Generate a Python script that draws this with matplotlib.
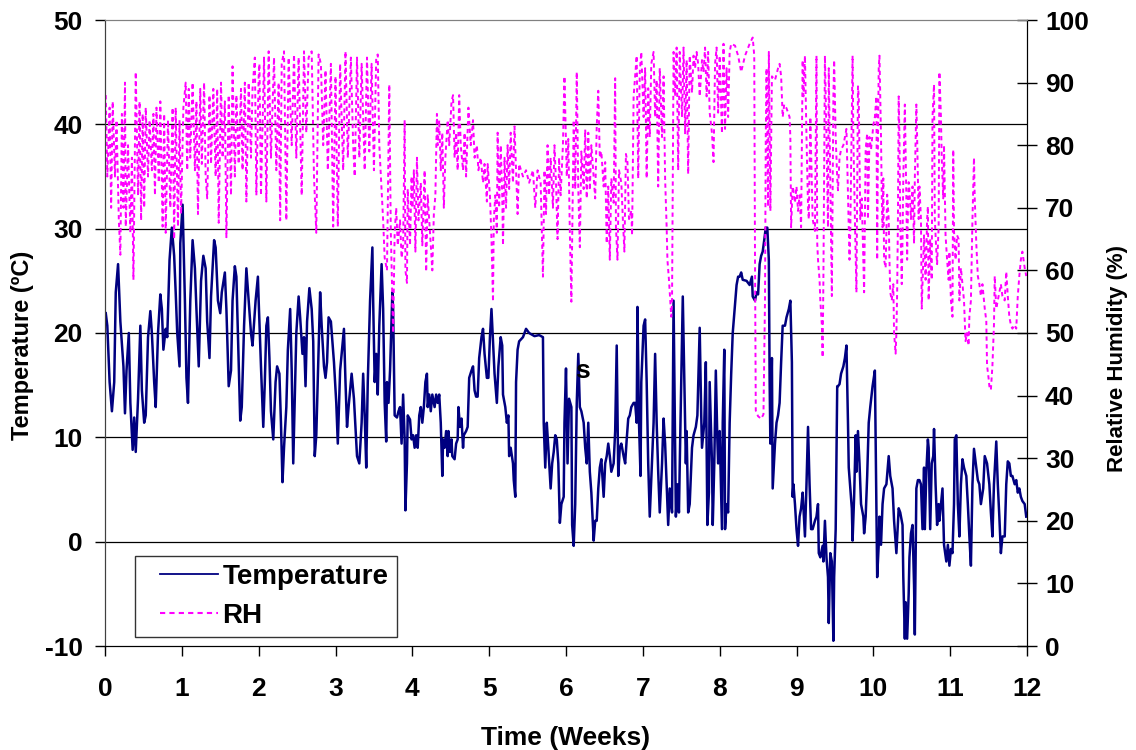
import matplotlib
matplotlib.use("Agg")
import matplotlib.pyplot as plt
from matplotlib.lines import Line2D
from matplotlib.legend_handler import HandlerLine2D

plt.rcParams['font.family'] = ['Liberation Sans', 'DejaVu Sans']
plt.rcParams['font.weight'] = 'bold'
plt.rcParams['axes.unicode_minus'] = False

# Temperature trace (weeks, deg C)
temp_weeks = [
    0.01, 0.03, 0.06, 0.09, 0.12, 0.14, 0.17, 0.20, 0.24, 0.26, 0.28, 0.31, 0.33, 0.36, 0.38, 0.40,
    0.43, 0.46, 0.48, 0.51, 0.53, 0.56, 0.59, 0.61, 0.64, 0.66, 0.69, 0.72, 0.74, 0.76, 0.79, 0.81,
    0.84, 0.87, 0.90, 0.92, 0.94, 0.97, 0.98, 1.01, 1.04, 1.06, 1.08, 1.11, 1.14, 1.17, 1.19, 1.22,
    1.25, 1.28, 1.31, 1.33, 1.36, 1.38, 1.42, 1.44, 1.47, 1.50, 1.52, 1.56, 1.58, 1.61, 1.64, 1.66,
    1.69, 1.71, 1.74, 1.76, 1.78, 1.81, 1.84, 1.87, 1.90, 1.92, 1.96, 1.99,
    2.00, 2.03, 2.06, 2.08, 2.10, 2.12, 2.14, 2.16, 2.19, 2.22, 2.24, 2.27, 2.29, 2.31, 2.33, 2.36,
    2.38, 2.41, 2.43, 2.45, 2.47, 2.49, 2.52, 2.54, 2.57, 2.59, 2.61, 2.63, 2.66, 2.69, 2.71, 2.73,
    2.75, 2.78, 2.80, 2.82, 2.85, 2.87, 2.89, 2.91, 2.94, 2.96, 2.98, 3.01, 3.03, 3.06, 3.08, 3.11,
    3.13, 3.15, 3.17, 3.19, 3.21, 3.24, 3.26, 3.28, 3.31, 3.34, 3.36, 3.38, 3.40, 3.42, 3.45, 3.48,
    3.49, 3.51, 3.53, 3.55, 3.57, 3.60, 3.62, 3.64, 3.66, 3.67, 3.69, 3.71, 3.74, 3.75, 3.77, 3.80,
    3.82, 3.84, 3.86, 3.88, 3.90, 3.91, 3.93, 3.94, 3.97, 3.99,
    4.01, 4.03, 4.05, 4.07, 4.09, 4.11, 4.13, 4.15, 4.17, 4.19, 4.20, 4.22, 4.24, 4.26, 4.29, 4.31,
    4.33, 4.35, 4.37, 4.39, 4.40, 4.42, 4.44, 4.46, 4.47, 4.49, 4.51, 4.52, 4.55, 4.57, 4.59, 4.60,
    4.62, 4.64, 4.66, 4.67, 4.70, 4.72, 4.74, 4.77, 4.79, 4.81, 4.83, 4.85, 4.87, 4.90, 4.92, 4.94,
    4.97, 4.99, 5.01, 5.03, 5.05, 5.07, 5.10, 5.12, 5.15, 5.17, 5.18, 5.21, 5.23, 5.25, 5.26, 5.28,
    5.31, 5.32, 5.34, 5.35, 5.37, 5.39, 5.44, 5.48, 5.52, 5.59, 5.65, 5.70, 5.71, 5.73, 5.75, 5.77,
    5.80, 5.82, 5.84, 5.86, 5.88, 5.90, 5.92, 5.94, 5.97, 5.98, 6.00, 6.02,
    6.04, 6.07, 6.08, 6.10, 6.12, 6.14, 6.16, 6.18, 6.20, 6.23, 6.25, 6.27, 6.29, 6.31, 6.33, 6.36,
    6.38, 6.40, 6.42, 6.44, 6.46, 6.49, 6.51, 6.53, 6.55, 6.57, 6.59, 6.62, 6.64, 6.66, 6.68, 6.70,
    6.72, 6.75, 6.77, 6.79, 6.81, 6.83, 6.85, 6.88, 6.90, 6.92, 6.93, 6.95, 6.97, 6.98, 7.01, 7.03,
    7.05, 7.07, 7.09, 7.11, 7.14, 7.16, 7.18, 7.20, 7.22, 7.25, 7.27, 7.29, 7.31, 7.33, 7.35, 7.38,
    7.40, 7.41, 7.43, 7.45, 7.47, 7.49, 7.52, 7.54, 7.56, 7.57, 7.59, 7.61, 7.64, 7.66, 7.69, 7.71,
    7.74, 7.76, 7.77, 7.80, 7.82, 7.84, 7.86, 7.87, 7.90, 7.91, 7.93, 7.95, 7.97, 7.98, 8.00, 8.03,
    8.04, 8.06, 8.07, 8.09, 8.11, 8.13, 8.15, 8.17, 8.20, 8.22, 8.24, 8.26, 8.28, 8.30, 8.35, 8.39,
    8.42, 8.43, 8.46, 8.48, 8.50, 8.52, 8.54, 8.56, 8.58, 8.60, 8.62, 8.64, 8.65, 8.66, 8.68, 8.69,
    8.72, 8.74, 8.76, 8.78, 8.80, 8.82, 8.85, 8.87, 8.90, 8.92, 8.94, 8.95, 8.96, 8.98, 9.00, 9.02,
    9.04, 9.06, 9.08, 9.11, 9.13, 9.15, 9.17, 9.19, 9.21, 9.24, 9.26, 9.28, 9.29, 9.31, 9.34, 9.35,
    9.37, 9.39, 9.41, 9.42, 9.44, 9.46, 9.48, 9.49, 9.51, 9.53, 9.54, 9.56, 9.58, 9.61, 9.63, 9.65,
    9.67, 9.68, 9.70, 9.72, 9.73, 9.75, 9.77, 9.78, 9.80, 9.82, 9.84, 9.87, 9.88, 9.90, 9.92, 9.94,
    9.96, 9.99, 10.02, 10.05,
    10.07, 10.08, 10.10, 10.12, 10.14, 10.17, 10.20, 10.22, 10.25, 10.27, 10.30, 10.33, 10.35, 10.38,
    10.39, 10.41, 10.42, 10.44, 10.46, 10.47, 10.49, 10.51, 10.53, 10.54, 10.56, 10.58, 10.60, 10.62,
    10.64, 10.66, 10.67, 10.69, 10.71, 10.72, 10.74, 10.76, 10.78, 10.79, 10.81, 10.83, 10.85, 10.86,
    10.88, 10.90, 10.92, 10.95, 10.97, 10.99, 11.01, 11.03, 11.05, 11.06, 11.08, 11.10, 11.12, 11.14,
    11.16, 11.18, 11.21, 11.23, 11.25, 11.27, 11.29, 11.31, 11.34, 11.36, 11.38, 11.40, 11.43, 11.45,
    11.48, 11.51, 11.53, 11.55, 11.57, 11.60, 11.62, 11.64, 11.66, 11.68, 11.71, 11.73, 11.75, 11.77,
    11.79, 11.81, 11.84, 11.86, 11.88, 11.90, 11.92, 11.94, 11.97, 11.99,
]
temp_c = [
    21.9, 20.7, 15.3, 12.5, 15.3, 23.9, 26.6, 21.1, 16.8, 12.3, 16.4, 20.0, 13.3, 8.8, 11.9, 8.6,
    13.7, 20.7, 14.5, 11.4, 12.1, 19.6, 22.1, 20.0, 15.3, 12.9, 20.0, 23.7, 22.3, 18.4, 20.4, 19.6,
    27.0, 30.1, 27.4, 23.9, 20.0, 16.8, 28.6, 32.3, 23.1, 15.7, 13.3, 23.1, 28.9, 26.2, 22.3, 16.8,
    25.0, 27.4, 26.2, 21.1, 17.6, 23.5, 28.9, 28.2, 23.1, 21.9, 23.9, 25.8, 22.3, 14.9, 16.4, 23.1,
    26.4, 25.4, 17.2, 11.6, 12.9, 20.7, 26.2, 23.1, 20.0, 18.8, 23.1, 25.4,
    23.1, 16.8, 11.0, 15.3, 20.7, 21.5, 17.6, 12.5, 9.8, 15.3, 16.8, 16.1, 11.4, 5.7, 9.0, 12.9,
    18.4, 22.3, 16.4, 7.5, 13.7, 20.0, 23.5, 21.5, 18.0, 19.6, 14.9, 21.1, 24.3, 22.3, 19.2, 8.2,
    10.2, 18.4, 23.9, 20.7, 16.8, 15.7, 17.2, 21.5, 21.1, 19.2, 17.2, 13.3, 9.4, 16.4, 18.0, 20.4,
    15.3, 11.0, 12.9, 14.5, 16.1, 13.7, 11.0, 8.2, 7.5, 11.4, 16.1, 12.1, 7.1, 15.3, 23.1, 28.2,
    23.1, 15.3, 18.0, 14.1, 20.7, 26.6, 22.3, 13.3, 9.6, 15.3, 13.3, 16.4, 23.9, 22.3, 12.1, 11.9,
    12.5, 12.9, 9.4, 14.1, 9.8, 3.0, 7.5, 12.1, 11.7, 9.8,
    10.2, 9.0, 10.2, 9.0, 12.1, 12.9, 11.4, 12.9, 15.3, 16.1, 12.9, 14.1, 12.5, 14.1, 12.9, 14.1,
    13.3, 14.1, 11.4, 6.3, 9.8, 9.0, 10.6, 8.2, 10.6, 8.6, 9.8, 8.2, 7.9, 9.4, 9.8, 12.9,
    11.0, 11.8, 9.0, 10.2, 10.6, 11.0, 15.7, 16.4, 16.8, 14.5, 13.9, 13.9, 17.6, 19.6, 20.4, 18.0,
    15.7, 15.7, 19.6, 22.3, 19.2, 16.1, 13.3, 16.8, 19.6, 18.8, 14.1, 12.9, 11.4, 12.1, 8.2, 9.0,
    7.5, 5.9, 4.3, 15.3, 18.4, 19.2, 19.6, 20.4, 20.0, 19.7, 19.8, 19.6, 11.4, 7.1, 11.4, 9.0,
    5.1, 7.5, 8.6, 10.2, 9.8, 7.5, 1.8, 3.6, 4.3, 11.4, 16.6, 7.5,
    13.7, 12.9, 1.6, -0.4, 3.6, 13.3, 18.0, 12.9, 12.5, 11.4, 9.0, 7.5, 11.4, 6.7, 4.7, 0.1,
    2.0, 2.0, 5.1, 7.1, 7.9, 4.3, 7.5, 8.2, 9.4, 8.2, 6.7, 7.5, 10.6, 18.8, 6.3, 9.0,
    9.4, 8.2, 7.5, 9.8, 11.8, 12.1, 12.9, 13.3, 13.3, 11.4, 22.5, 11.4, 6.3, 15.3, 20.7, 21.3,
    15.3, 7.5, 2.4, 5.9, 11.4, 18.0, 11.4, 6.7, 2.8, 7.5, 11.8, 9.4, 5.5, 1.6, 5.1, 2.8,
    23.1, 16.4, 2.4, 5.5, 2.8, 11.4, 23.5, 15.3, 7.5, 10.6, 2.8, 3.6, 9.0, 10.2, 11.0, 12.1,
    20.5, 12.1, 9.0, 11.4, 17.2, 1.6, 4.7, 15.3, 7.5, 1.6, 7.5, 16.4, 9.8, 7.5, 10.6, 1.2,
    11.4, 18.4, 1.2, 3.6, 2.8, 11.4, 16.1, 20.0, 22.7, 24.6, 25.4, 25.4, 25.8, 25.1, 25.0, 24.6,
    25.4, 23.5, 23.1, 23.9, 23.7, 26.6, 27.4, 27.8, 28.9, 30.1, 30.1, 27.0, 15.7, 9.4, 17.6, 5.1,
    9.4, 11.4, 12.1, 13.3, 17.2, 20.7, 20.7, 21.5, 22.3, 23.1, 17.2, 4.3, 5.5, 3.6, 1.2, -0.4,
    2.4, 3.2, 4.7, 0.5, 5.5, 11.0, 5.5, 1.2, 1.2, 2.0, 2.4, 3.6, -1.1, -1.5, -0.4, -1.9,
    2.0, -1.5, -3.4, -7.8, -1.1, -1.9, -9.5, -3.4, 1.2, 14.9, 14.9, 15.1, 16.1, 16.8, 17.6, 18.8,
    11.4, 7.1, 5.1, 3.2, 0.1, 4.3, 10.2, 6.7, 10.6, 7.5, 3.6, 2.4, 0.8, 2.4, 6.3, 11.4,
    12.9, 14.9, 16.4, -3.4,
    -0.3, 2.4, -0.3, 3.6, 5.1, 5.5, 8.2, 6.3, 5.1, 2.0, -1.1, 3.2, 2.8, 1.6,
    -3.4, -9.3, -5.8, -9.3, -5.0, -1.5, 0.8, 1.6, -4.2, -8.9, 5.1, 5.9, 5.9, 5.5,
    1.2, 7.1, 1.2, 6.7, 9.8, 9.0, 1.2, 7.5, 8.2, 10.8, 5.5, 1.6, 3.6, 2.0,
    3.6, 5.1, -0.3, -1.9, -0.3, -2.3, -0.7, -1.1, 3.6, 9.8, 10.2, 3.6, 0.5, 5.5,
    7.9, 7.1, 6.3, 3.6, 0.5, -2.3, 5.5, 8.9, 7.1, 5.9, 5.5, 3.6, 5.1, 8.2,
    7.5, 5.5, 2.8, 0.5, 5.5, 9.6, 5.5, 2.4, -1.1, 0.5, 0.5, 5.5, 7.7, 7.5,
    6.3, 6.3, 5.5, 5.9, 4.7, 5.1, 4.3, 3.9, 3.6, 2.4,
]

# Relative humidity trace (weeks, %)
rh_weeks = [
    0.01, 0.03, 0.06, 0.08, 0.10, 0.13, 0.15, 0.18, 0.20, 0.22, 0.24, 0.26, 0.27, 0.30, 0.33, 0.35,
    0.37, 0.40, 0.43, 0.45, 0.47, 0.49, 0.51, 0.53, 0.56, 0.58, 0.61, 0.63, 0.65, 0.67, 0.70, 0.72,
    0.75, 0.77, 0.79, 0.82, 0.85, 0.88, 0.90, 0.92, 0.95, 0.97, 0.99, 1.02, 1.05, 1.07, 1.09, 1.11,
    1.14, 1.17, 1.19, 1.21, 1.24, 1.26, 1.29, 1.31, 1.33, 1.36, 1.38, 1.41, 1.44, 1.46, 1.48, 1.51,
    1.53, 1.56, 1.58, 1.61, 1.64, 1.66, 1.69, 1.71, 1.74, 1.77, 1.79, 1.82, 1.84, 1.87, 1.90, 1.92,
    1.95, 1.97, 2.00,
    2.01, 2.03, 2.07, 2.10, 2.13, 2.16, 2.20, 2.23, 2.26, 2.28, 2.30, 2.33, 2.36, 2.39, 2.43, 2.46,
    2.49, 2.52, 2.56, 2.59, 2.62, 2.65, 2.69, 2.72, 2.75, 2.78, 2.81, 2.84, 2.87, 2.90, 2.94, 2.97,
    3.00, 3.03, 3.06, 3.10, 3.13, 3.16, 3.20, 3.23, 3.25, 3.28, 3.31, 3.34, 3.38, 3.41, 3.44, 3.47,
    3.50, 3.53, 3.55, 3.57, 3.60, 3.62, 3.64, 3.67, 3.70, 3.72, 3.74, 3.75, 3.77, 3.79, 3.81, 3.84,
    3.86, 3.88, 3.90, 3.91, 3.93, 3.94, 3.97, 3.99,
    4.00, 4.02, 4.04, 4.06, 4.08, 4.11, 4.13, 4.16, 4.18, 4.20, 4.23, 4.25, 4.26, 4.28, 4.30, 4.32,
    4.33, 4.35, 4.37, 4.39, 4.41, 4.43, 4.46, 4.48, 4.51, 4.53, 4.55, 4.57, 4.59, 4.61, 4.63, 4.66,
    4.68, 4.70, 4.73, 4.76, 4.79, 4.81, 4.84, 4.86, 4.89, 4.92, 4.94, 4.97, 4.98, 5.01, 5.03, 5.05,
    5.06, 5.08, 5.10, 5.11, 5.13, 5.15, 5.17, 5.18, 5.20, 5.22, 5.24, 5.26, 5.28, 5.31, 5.33, 5.35,
    5.37, 5.39, 5.44, 5.48, 5.52, 5.57, 5.60, 5.63, 5.67, 5.70, 5.72, 5.74, 5.76, 5.78, 5.80, 5.83,
    5.85, 5.87, 5.89, 5.91, 5.93, 5.96, 5.98,
    6.01, 6.03, 6.05, 6.07, 6.10, 6.12, 6.14, 6.16, 6.18, 6.20, 6.23, 6.25, 6.27, 6.29, 6.31, 6.33,
    6.36, 6.38, 6.40, 6.42, 6.44, 6.46, 6.49, 6.51, 6.53, 6.55, 6.57, 6.59, 6.62, 6.64, 6.65, 6.67,
    6.69, 6.72, 6.74, 6.76, 6.78, 6.80, 6.82, 6.85, 6.86, 6.88, 6.90, 6.92, 6.94, 6.96, 6.98, 7.01,
    7.03, 7.05, 7.07, 7.09, 7.11, 7.14, 7.16, 7.18, 7.20, 7.22, 7.25, 7.27, 7.29, 7.31, 7.32, 7.34,
    7.37, 7.38, 7.40, 7.42, 7.44, 7.46, 7.48, 7.51, 7.53, 7.55, 7.57, 7.59, 7.61, 7.64, 7.66, 7.68,
    7.70, 7.72, 7.74, 7.77, 7.79, 7.81, 7.83, 7.85, 7.87, 7.90, 7.92, 7.94, 7.96, 7.98, 8.00, 8.03,
    8.05,
    8.07, 8.09, 8.11, 8.13, 8.15, 8.20, 8.24, 8.28, 8.33, 8.39, 8.43, 8.45, 8.46, 8.47, 8.50, 8.54,
    8.57, 8.59, 8.60, 8.61, 8.63, 8.64, 8.66, 8.68, 8.72, 8.76, 8.78, 8.80, 8.82, 8.84, 8.87, 8.91,
    8.92, 8.93, 8.95, 8.96, 8.98, 9.00, 9.02, 9.04, 9.06, 9.08, 9.09, 9.11, 9.13, 9.15, 9.16, 9.18,
    9.20, 9.21, 9.24, 9.26, 9.27, 9.28, 9.30, 9.31, 9.33, 9.34, 9.35, 9.37, 9.39, 9.41, 9.42, 9.44,
    9.46, 9.48, 9.49, 9.51, 9.53, 9.54, 9.56, 9.58, 9.61, 9.63, 9.65, 9.67, 9.69, 9.70, 9.73, 9.74,
    9.76, 9.78, 9.80, 9.81, 9.83, 9.85, 9.87, 9.88, 9.90, 9.92, 9.93, 9.95, 9.97, 10.00, 10.02,
    10.04,
    10.05, 10.06, 10.07, 10.08, 10.09, 10.10, 10.11, 10.12, 10.13, 10.14, 10.16, 10.18, 10.20, 10.21,
    10.22, 10.24, 10.26, 10.27, 10.29, 10.30, 10.31, 10.32, 10.33, 10.34, 10.35, 10.37, 10.38, 10.39,
    10.41, 10.43, 10.44, 10.45, 10.46, 10.47, 10.49, 10.51, 10.53, 10.54, 10.56, 10.57, 10.59, 10.60,
    10.62, 10.63, 10.65, 10.66, 10.68, 10.70, 10.71, 10.72, 10.74, 10.76, 10.77, 10.79, 10.80, 10.82,
    10.83, 10.85, 10.86, 10.88, 10.89, 10.91, 10.92, 10.94, 10.96, 10.98, 10.99, 11.01, 11.03, 11.04,
    11.05, 11.07, 11.09, 11.11, 11.12, 11.14, 11.16, 11.18, 11.20, 11.22, 11.24, 11.25, 11.27, 11.29,
    11.31, 11.32, 11.34, 11.36, 11.38, 11.40, 11.42, 11.45, 11.47, 11.48, 11.50, 11.51, 11.53, 11.55,
    11.57, 11.58, 11.60, 11.62, 11.64, 11.66, 11.68, 11.71, 11.73, 11.75, 11.77, 11.79, 11.81, 11.84,
    11.86, 11.88, 11.90, 11.92, 11.94, 11.97, 11.99,
]
rh_pct = [
    88, 75, 86, 70, 87, 75, 84, 68, 62.5, 85, 70, 90, 67, 80, 66, 78,
    58.5, 91.7, 72, 87, 68, 85, 70, 86, 75, 84, 76, 85, 72, 86, 74, 87,
    67, 85, 66, 84, 70, 86, 65, 86, 67, 84, 69, 86, 90, 76, 89, 78,
    90, 76, 87, 69, 89, 77, 90, 75, 71.5, 88, 77, 89, 75, 89, 67.6, 90,
    78, 87, 65.3, 88, 72, 92.6, 75, 88, 77, 89, 76, 90, 71, 90, 78, 89,
    94, 72, 91,
    93, 72, 94, 71, 95, 78, 94, 76, 90, 68, 93, 95, 68, 94, 80, 94.5,
    78, 94, 72, 95, 82, 94, 95, 75, 66, 94.5, 93, 80, 92, 76, 93, 67,
    91, 67, 93, 76, 95, 78, 94, 80, 75, 94, 78, 93, 76, 94, 79, 93,
    76, 94, 94.5, 80, 73, 68, 62, 60, 89.7, 66, 55, 50, 66, 70, 64, 68,
    62, 64, 84, 60, 58, 73, 64, 75,
    70, 76, 63, 78, 68, 74, 64, 76, 59.8, 72, 66, 62, 60, 69, 72, 85,
    80, 84, 76, 82, 70, 78, 84, 80, 87, 88, 78, 82, 76, 88, 80, 76,
    82, 75, 86, 80, 84, 78, 80, 76, 78, 74, 77, 71, 77, 72, 65, 55,
    68, 72, 66, 82, 70, 80, 72, 64, 78, 70, 80, 73, 82, 74, 83, 76,
    69, 77, 75, 76, 74, 76, 70, 76, 74, 59, 76, 69, 80, 72, 78, 70,
    80, 74, 65, 78, 72, 80, 91,
    75, 81, 66, 55, 84, 73, 91.7, 73, 63.7, 79, 73, 82.5, 71.5, 82, 72.8, 80,
    75, 71.5, 83, 88.7, 78, 79, 73.4, 77.3, 64.3, 73.4, 61.7, 74.7, 70.8, 90.7, 66.9, 61.7,
    76, 74, 68.2, 63, 78.6, 77.3, 68.2, 69.5, 65.6, 87.8, 91, 94.3, 74.7, 91.7, 94.9, 84.5,
    92.3, 74.7, 89.1, 81.3, 93, 94.9, 84.5, 90.4, 73.4, 92.3, 81.3, 91, 74.7, 66.9, 61.7, 58.5,
    52.6, 55, 94.9, 87.8, 95.6, 76, 94.9, 84.5, 95.6, 81.9, 93.6, 75.4, 94.3, 88.4, 94.3, 92.3,
    94.9, 93, 87.8, 93.6, 91.7, 95.6, 87.8, 94.9, 85.2, 81.9, 77.3, 93, 95.6, 85.2, 94.3, 81.9,
    96.2,
    82.6, 92.3, 84.5, 94.9, 96.2, 95.9, 94.3, 91.7, 94.3, 96.2, 97.2, 94.3, 61.7, 37.6, 36.7, 36.3,
    37, 55.2, 81.3, 92.3, 70.2, 94.9, 69.5, 91, 90.4, 92.3, 93, 91, 84.5, 86.5, 85.9, 84.5,
    81.3, 66.9, 73.4, 72.8, 70.8, 73.4, 69.5, 72, 66.9, 93.6, 87.8, 94.3, 81.3, 70.2, 68.2, 84.5,
    73.4, 68.2, 66.3, 94.3, 64.3, 61.7, 58.5, 55.2, 51.3, 46.1, 58.5, 94.3, 81.3, 66.9, 92.3, 74.7,
    55.9, 87.8, 93.6, 81.3, 74.7, 72.8, 78, 79.3, 80, 81.3, 82.6, 72.1, 61.7, 66.3, 94.3, 81.3,
    68.2, 56.5, 89.4, 87.8, 68.2, 71.5, 61.7, 56.5, 79.3, 81.9, 68.2, 81.3, 79.3, 83.2, 84.5,
    87.8,
    61.7, 80, 92.3, 94.3, 87.8, 81.3, 71.5, 66.9, 74.7, 61.7, 60.4, 72.1, 68.2, 61.7,
    56.5, 55.2, 57.8, 50, 46.7, 50, 56.5, 68.2, 87.8, 81.3, 68.2, 57.8, 65, 74.7,
    86.5, 71.5, 61.7, 69.5, 74.1, 72.8, 68.2, 73.4, 64.3, 74.7, 86.5, 81.3, 68.2, 73.4,
    68.2, 53.9, 61.7, 65.6, 58.5, 68.2, 70.2, 55.2, 65, 58.5, 84.5, 89.7, 68.2, 63,
    61, 66.9, 91.7, 84.5, 78, 71.5, 80, 65.6, 61.7, 58.5, 63, 55.2, 52.6, 79.3,
    66.3, 61.7, 65.6, 65, 55.2, 60.4, 57.8, 55.2, 48.7, 50, 48, 52.6, 55.2, 68.2,
    78, 71.5, 64.3, 59.1, 57.8, 55.9, 57.8, 53.9, 52, 44.8, 42.8, 41.5, 40.9, 44.8,
    51.3, 59.1, 53.9, 55.2, 56.5, 57.8, 55.9, 55.2, 59.8, 55.9, 52.6, 51.3, 50.7, 51.3,
    50.7, 55.9, 59.1, 61.7, 63, 60.4, 59.1,
]

week_ticks = list(range(0, 13))
temp_ticks = [-10, 0, 10, 20, 30, 40, 50]
rh_ticks = [0, 10, 20, 30, 40, 50, 60, 70, 80, 90, 100]

tick_fs = 19
label_fs = 19
leg_fs = 20

fig = plt.figure(figsize=(11.36, 7.5), dpi=100)
ax = fig.add_axes([105 / 1136, 1 - 646 / 750, 922 / 1136, 626 / 750])
ax2 = ax.twinx()

for v in [0, 10, 20, 30, 40]:
    ax.axhline(v, color='black', lw=0.9, zorder=1)

ax.plot(temp_weeks, temp_c, color='#000080', lw=1.8, zorder=3)
ax2.plot(rh_weeks, rh_pct, color='#ff00ff', lw=1.4, ls=(0, (2.2, 1.8)))

ax.set_xlim(0, 12)
ax.set_ylim(-10, 50)
ax2.set_ylim(0, 100)
ax.set_xticks(week_ticks)
ax.set_yticks(temp_ticks)
ax2.set_yticks(rh_ticks)

ax.tick_params(axis='x', direction='out', length=7, width=1, labelsize=tick_fs, pad=15)
ax.tick_params(axis='y', direction='out', length=7, width=1, labelsize=tick_fs, pad=9)
ax2.tick_params(axis='y', direction='inout', length=14, width=1, labelsize=tick_fs, pad=6)

for a in (ax, ax2):
    a.spines['top'].set_color('#808080')
    a.spines['left'].set_color('#404040')
    a.spines['right'].set_color('black')
    a.spines['bottom'].set_color('black')

ax.set_xlabel('Time (Weeks)', fontsize=label_fs, fontweight='bold', labelpad=18)
ax.set_ylabel('Temperature (ºC)', fontsize=17, fontweight='bold', labelpad=8)
ax2.set_ylabel('Relative Humidity (%)', fontsize=16, fontweight='bold', labelpad=13)
ax.yaxis.label.set_y(0.48)
ax2.yaxis.label.set_y(0.46)

ax.text(6.22, 16.4, 's', fontsize=label_fs, fontweight='bold', ha='center', va='center', zorder=4)

handles = [Line2D([], [], color='#000080', lw=1.3),
           Line2D([], [], color='#ff00ff', lw=1.5, ls=(0, (2.5, 2)))]
leg = ax2.legend(handles, ['Temperature', 'RH'], loc='lower left',
                 bbox_to_anchor=(0.0325, 0.0144), borderaxespad=0,
                 prop={'size': leg_fs, 'weight': 'bold'}, frameon=True, fancybox=False,
                 edgecolor='black', handlelength=2.7, handletextpad=0.15, labelspacing=0.45,
                 borderpad=0.3,
                 handler_map={Line2D: HandlerLine2D(xpad=0.6)})
leg.get_frame().set_linewidth(1.0)

fig.savefig('out.png', dpi=100)
